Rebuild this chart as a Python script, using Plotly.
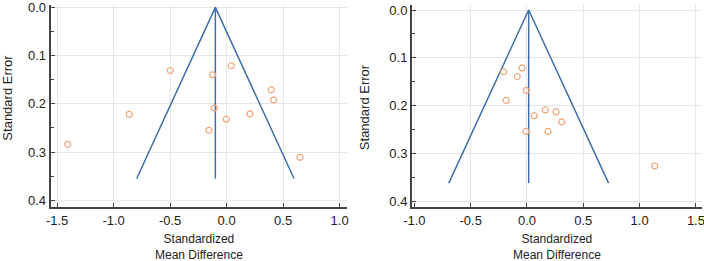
import plotly.graph_objects as go

# Left panel data
left_smd = [-1.407, -0.862, -0.499, -0.124, 0.041, -0.110, -0.004, -0.157, 0.206, 0.395, 0.416, 0.649]
left_se = [0.284, 0.222, 0.131, 0.140, 0.121, 0.209, 0.232, 0.255, 0.221, 0.171, 0.192, 0.311]
left_mean = -0.10
left_se_max = 0.355

# Right panel data
right_smd = [-0.207, -0.044, -0.086, -0.006, -0.184, 0.163, 0.258, 0.065, 0.308, -0.009, 0.186, 1.134]
right_se = [0.129, 0.121, 0.139, 0.168, 0.189, 0.209, 0.213, 0.221, 0.234, 0.254, 0.254, 0.326]
right_mean = 0.015
right_se_max = 0.362

x_tick_left = [-1.5, -1.0, -0.5, 0.0, 0.5, 1.0]
x_tick_right = [-1.0, -0.5, 0.0, 0.5, 1.0, 1.5]
y_ticks = [0.0, 0.1, 0.2, 0.3, 0.4]
x_title = "Standardized<br>Mean Difference"
y_title = "Standard Error"

LINE = "#3f6fa8"
PT = "#f0a67a"
W, H = 704, 261
FONT = "Liberation Sans, Arial"

fig = go.Figure()


def add_panel(smd, se, mean, semax, xa, ya):
    z = 1.96 * semax
    fig.add_trace(go.Scatter(x=[mean - z, mean, mean + z], y=[semax, 0, semax], mode="lines",
                             line=dict(color=LINE, width=1.5), xaxis=xa, yaxis=ya, showlegend=False,
                             hoverinfo="skip", cliponaxis=False))
    fig.add_trace(go.Scatter(x=[mean, mean], y=[0, semax], mode="lines",
                             line=dict(color=LINE, width=1.5), xaxis=xa, yaxis=ya, showlegend=False,
                             hoverinfo="skip", cliponaxis=False))
    fig.add_trace(go.Scatter(x=smd, y=se, mode="markers",
                             marker=dict(symbol="circle-open", size=6, color=PT, line=dict(width=1.2, color=PT)),
                             xaxis=xa, yaxis=ya, showlegend=False))


add_panel(left_smd, left_se, left_mean, left_se_max, "x", "y")
add_panel(right_smd, right_se, right_mean, right_se_max, "x2", "y2")

ml, mr, mt, mb = 0, 0, 5, 54.3
pw = W - ml - mr
ph = H - mt - mb


def px(a):
    return (a - ml) / pw


def py(b):
    # pixel y from top -> paper fraction
    return 1 - (b - mt) / ph


axis_common = dict(showline=True, linecolor="#444444", linewidth=2, ticks="inside", ticklen=4,
                   tickwidth=1, tickcolor="#444444", showgrid=True, gridcolor="#e6e6e6", gridwidth=1,
                   zeroline=False, tickfont=dict(family=FONT, size=13, color="#222222"),
                   mirror=False, automargin=False, ticklabeloverflow="allow")

fig.update_layout(
    width=W, height=H, margin=dict(l=ml, r=mr, t=mt, b=mb, autoexpand=False),
    paper_bgcolor="white", plot_bgcolor="white",
    font=dict(family=FONT, size=12, color="#222222"),
    xaxis=dict(axis_common, domain=[px(50.7), px(347)], range=[-1.557, 1.065], tickvals=x_tick_left,
               ticktext=[f"{v:.1f}" for v in x_tick_left], anchor="y"),
    yaxis=dict(axis_common, domain=[0, 1], range=[0.414, -0.0048], tickvals=y_ticks,
               ticktext=[f"{v:.1f}" for v in y_ticks], anchor="x",
               minor=dict(ticks="inside", ticklen=3, dtick=0.05, tickcolor="#444444", showgrid=False)),
    xaxis2=dict(axis_common, domain=[px(412), px(702)], range=[-1.021, 1.554], tickvals=x_tick_right,
                ticktext=[f"{v:.1f}" for v in x_tick_right], anchor="y2"),
    yaxis2=dict(axis_common, domain=[0, 1], range=[0.412, -0.0105], tickvals=y_ticks,
                ticktext=[f"{v:.1f}" for v in y_ticks], anchor="x2",
                minor=dict(ticks="inside", ticklen=3, dtick=0.05, tickcolor="#444444", showgrid=False)),
)

for cx, cy in [(198.8, 246.5), (557, 246.5)]:
    fig.add_annotation(text=x_title, xref="paper", yref="paper", x=px(cx), y=py(cy),
                       showarrow=False, font=dict(family=FONT, size=12, color="#222222"),
                       xanchor="center", yanchor="middle", align="center")
for cx, cy in [(8, 97.5), (364, 107)]:
    fig.add_annotation(text=y_title, xref="paper", yref="paper", x=px(cx), y=py(cy),
                       showarrow=False, textangle=-90, font=dict(family=FONT, size=13, color="#222222"),
                       xanchor="center", yanchor="middle", borderpad=0)

fig.write_html("out.html", config={"displayModeBar": False},
               post_script="document.body.style.margin='0';document.body.style.overflow='hidden';")
